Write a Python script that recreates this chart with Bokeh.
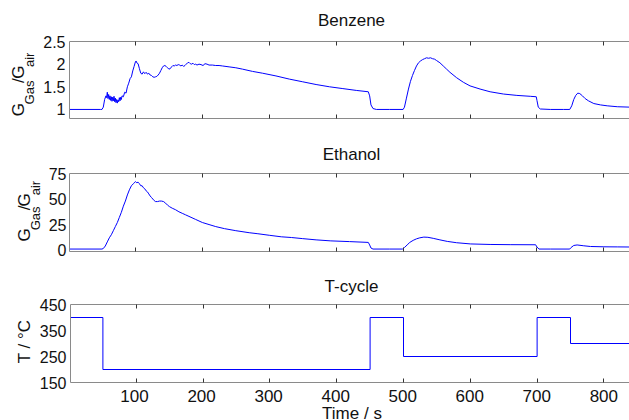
import math
from bokeh.plotting import figure
from bokeh.layouts import column, row
from bokeh.models import Range1d, LinearAxis, FixedTicker, NumeralTickFormatter
from bokeh.core.properties import value
from bokeh.embed import file_html
from bokeh.resources import INLINE

# ---- sensor response, benzene (G_gas / G_air) ----
benzene_t = [1, 48, 50, 52, 54, 56, 57, 58, 59, 60, 61, 62, 63, 64, 65, 66, 67, 68, 69, 70,
             71, 72, 73, 74, 75, 76, 77, 78, 79, 80, 82, 84, 86, 88, 90, 92, 94, 96, 98, 100,
             101, 102, 104, 106, 108, 110, 112, 114, 116, 118, 120, 122, 124, 126, 128, 130,
             132, 134, 136, 138, 140, 142, 144, 146, 148, 150, 152, 154, 156, 158, 160, 162,
             164, 166, 168, 170, 172, 174, 176, 178, 180, 182, 184, 186, 188, 190, 192, 195,
             198, 201, 204, 207, 210, 215, 220, 225, 230, 240, 250, 260, 275, 290, 310, 330,
             350, 370, 390, 410, 430, 448, 450, 452, 455, 460, 480, 500, 502, 505, 508, 511,
             514, 517, 520, 523, 526, 529, 532, 535, 538, 541, 544, 547, 550, 555, 560, 565,
             570, 580, 590, 600, 615, 630, 650, 670, 690, 699, 700, 702, 705, 720, 740, 749,
             752, 755, 758, 761, 764, 768, 772, 777, 785, 795, 805, 820, 840]
benzene_g = [1.00, 1.00, 1.00, 1.05, 1.22, 1.30, 1.26, 1.38, 1.24, 1.33, 1.22, 1.30, 1.20, 1.28,
             1.18, 1.27, 1.19, 1.29, 1.17, 1.25, 1.15, 1.22, 1.14, 1.21, 1.17, 1.26, 1.19, 1.27,
             1.22, 1.30, 1.28, 1.38, 1.36, 1.50, 1.58, 1.68, 1.72, 1.85, 1.95, 2.05, 2.07, 2.03,
             2.01, 1.90, 1.80, 1.78, 1.83, 1.79, 1.82, 1.78, 1.80, 1.76, 1.75, 1.72, 1.71, 1.72,
             1.73, 1.76, 1.80, 1.86, 1.92, 1.96, 1.97, 1.95, 1.92, 1.89, 1.90, 1.94, 1.97, 1.96,
             1.98, 1.97, 1.99, 1.98, 1.96, 1.98, 1.95, 1.97, 2.00, 2.03, 2.04, 2.01, 2.00, 2.02,
             1.99, 2.00, 1.98, 2.00, 1.99, 1.97, 2.01, 2.00, 1.98, 1.98, 1.97, 1.97, 1.96, 1.94,
             1.92, 1.89, 1.84, 1.80, 1.74, 1.67, 1.61, 1.55, 1.50, 1.46, 1.42, 1.39, 1.30, 1.10,
             1.02, 1.00, 1.00, 1.00, 1.05, 1.25, 1.45, 1.62, 1.75, 1.86, 1.96, 2.03, 2.07, 2.10,
             2.12, 2.14, 2.13, 2.14, 2.12, 2.11, 2.08, 2.03, 1.96, 1.89, 1.82, 1.70, 1.60, 1.52,
             1.45, 1.39, 1.34, 1.31, 1.29, 1.28, 1.20, 1.05, 1.01, 1.00, 1.00, 1.00, 1.08, 1.22,
             1.31, 1.36, 1.35, 1.30, 1.24, 1.19, 1.13, 1.10, 1.08, 1.06, 1.05]

# ---- sensor response, ethanol (G_gas / G_air) ----
ethanol_t = [1, 50, 52, 55, 58, 61, 64, 67, 70, 73, 76, 79, 82, 85, 88, 91, 94, 97, 99, 100,
             102, 104, 106, 108, 110, 112, 114, 116, 118, 120, 122, 124, 126, 128, 130, 133,
             136, 139, 142, 145, 148, 151, 155, 160, 165, 170, 175, 180, 190, 200, 210, 220,
             233, 250, 270, 283, 300, 318, 333, 350, 370, 392, 420, 448, 450, 452, 455, 480,
             499, 502, 506, 510, 515, 520, 525, 531, 537, 545, 555, 566, 580, 601, 630, 660,
             698, 700, 703, 720, 749, 751, 755, 760, 770, 780, 800, 820, 840]
ethanol_g = [1.0, 1.0, 1.5, 4.0, 8.0, 12.0, 15.0, 19.0, 23.0, 27.0, 32.0, 37.0, 43.0, 48.0,
             54.0, 59.0, 63.0, 65.0, 66.5, 67.0, 66.0, 66.5, 65.0, 63.0, 63.0, 61.0, 60.0, 58.0,
             57.0, 55.0, 53.0, 51.5, 50.0, 48.5, 47.5, 47.5, 48.0, 48.0, 47.5, 46.0, 44.0, 42.5,
             41.0, 39.5, 37.5, 36.0, 34.5, 33.0, 30.0, 27.0, 25.0, 23.0, 21.0, 19.0, 17.0, 16.0,
             14.5, 13.0, 12.3, 11.2, 10.0, 9.0, 8.3, 7.5, 5.0, 2.0, 1.0, 1.0, 1.0, 2.5, 5.0,
             7.5, 9.5, 11.0, 12.0, 12.7, 12.5, 11.5, 10.0, 8.5, 7.2, 6.0, 5.5, 5.3, 5.2, 3.0,
             1.0, 1.0, 1.0, 2.5, 4.5, 5.0, 4.2, 3.5, 3.2, 3.1, 3.0]

# ---- heater temperature programme (step changes) ----
temp_t = [1, 50, 450, 500, 700, 750, 840]
temp_c = [400, 200, 400, 250, 400, 300, 300]

time_ticks = [100, 200, 300, 400, 500, 600, 700, 800]
time_labels = [str(t) for t in time_ticks]
benzene_ticks = [1, 1.5, 2, 2.5]
ethanol_ticks = [0, 25, 50, 75]
temp_ticks = [150, 250, 350, 450]

FONT = "Liberation Sans"
TEXT = "#111111"
LINE = "#0000ff"
FRAME = "#8a8a8a"
TICK = "#333333"
X0, X1 = 1.5, 838.3
W = 629
FRAME_LEFT = 68

# Arial-compatible advance widths (em fraction) used to chain label pieces
ADV = {"G": 0.778, "a": 0.556, "s": 0.5, "i": 0.222, "r": 0.333, "/": 0.278}
# distance from the alphabetic baseline to the centre of the em box (em fraction)
MID = 0.3465


def text_len(s, px):
    return sum(ADV[c] for c in s) * px


def blank(width, height, top, x_range=None, left=0):
    """Axis-free canvas; y data coordinates are page pixels (y down)."""
    p = figure(width=width, height=height,
               x_range=x_range if x_range is not None else Range1d(left, width),
               y_range=Range1d(top + height, top), x_axis_type=None, y_axis_type=None,
               output_backend="svg", toolbar_location=None, min_border=0,
               min_border_left=left)
    p.outline_line_color = None
    return p


def put(p, text, x, y, size=17, align="left", angle=0.0, dx=0):
    p.text(x=x if isinstance(x, list) else [x], y=y if isinstance(y, list) else [y],
           text=text if isinstance(text, list) else [text],
           text_font=value(FONT), text_font_size=f"{size}px", x_offset=dx,
           text_color=TEXT, text_align=align, text_baseline="middle", angle=angle)


def put_across(p, text, x, base_y, size=17, dx=0):
    # horizontal centred text; base_y is where the letters' baseline should fall
    n = len(text) if isinstance(text, list) else 1
    ys = [base_y - MID * size] * n
    put(p, text, x, ys if n > 1 else ys[0], size=size, align="center", dx=dx)


def put_up(p, text, base_x, y, size=17):
    # upward text; base_x is where the letters' baseline should fall
    put(p, text, base_x - MID * size, y, size=size, angle=math.pi / 2)


def hide_labels(ax):
    ax.major_label_text_font_size = "0px"
    ax.major_label_text_color = None
    ax.major_label_standoff = 0


def panel(width, height, top, bottom, yr, yticks, ystand=4):
    p = figure(width=width, height=height, x_range=Range1d(X0, X1), y_range=Range1d(*yr),
               output_backend="svg", toolbar_location=None,
               min_border_left=width - (W - FRAME_LEFT), min_border_right=0,
               min_border_top=top, min_border_bottom=bottom)
    p.outline_line_color = None
    p.xgrid.visible = False
    p.ygrid.visible = False

    bottom_axis = p.below[0]
    top_axis = LinearAxis()
    p.add_layout(top_axis, "above")
    for ax in (bottom_axis, top_axis):
        ax.ticker = FixedTicker(ticks=time_ticks)
        ax.major_tick_in = 4
        ax.major_tick_out = 0
        ax.minor_tick_line_color = None
        ax.axis_line_color = FRAME
        ax.major_tick_line_color = TICK
        hide_labels(ax)

    ya = p.left[0]
    ya.ticker = FixedTicker(ticks=yticks)
    ya.formatter = NumeralTickFormatter(format="0.[0]")
    ya.major_tick_in = 0
    ya.major_tick_out = 0
    ya.minor_tick_line_color = None
    ya.axis_line_color = FRAME
    ya.major_label_standoff = ystand
    ya.major_label_text_font = FONT
    ya.major_label_text_font_size = "16px"
    ya.major_label_text_color = TEXT
    return p


def ratio_label(p, base_x, start_y, main=17, sub=13, drop=10):
    # G_Gas / G_air written upward, subscripts set below the baseline
    pieces = [("G", main, 0), ("Gas", sub, drop), ("/", main, 0), ("G", main, 0), ("air", sub, drop)]
    y = start_y
    for s, px, d in pieces:
        put_up(p, s, base_x + d, y, size=px)
        y -= text_len(s, px)


# Benzene  (page rows 0-119)
t1 = blank(W, 33, 0, left=FRAME_LEFT)
put_across(t1, "Benzene", 351, 26)
l1 = blank(40, 86, 33)
ratio_label(l1, 23.5, 116.5)
p1 = panel(W - 40, 86, 8, 1, (0.8, 2.5), benzene_ticks)
p1.line(benzene_t, benzene_g, line_color=LINE, line_width=1)

# Ethanol  (page rows 119-258)
t2 = blank(W, 46, 119, left=FRAME_LEFT)
put_across(t2, "Ethanol", 351, 159.5)
l2 = blank(45, 93, 165)
ratio_label(l2, 29.5, 246)
p2 = panel(W - 45, 93, 8, 7, (-1.4, 75), ethanol_ticks, ystand=3)
p2.line(ethanol_t, ethanol_g, line_color=LINE, line_width=1)

# Temperature cycle  (page rows 258-389)
t3 = blank(W, 38, 258, left=FRAME_LEFT)
put_across(t3, "T-cycle", 351, 291.5)
l3 = blank(36, 93, 296)
put_up(l3, "T / °C", 30, 366)
p3 = panel(W - 36, 93, 8, 7, (150, 450), temp_ticks)
p3.step(temp_t, temp_c, mode="after", line_color=LINE, line_width=1)

# shared time scale: tick values and axis title under the last panel (rows 389-420)
t4 = blank(W, 31, 389, x_range=p3.x_range, left=FRAME_LEFT)
put_across(t4, time_labels, time_ticks, 401)
put_across(t4, "Time / s", (X0 + X1) / 2, 418.7, dx=3)

layout = column(t1, row(l1, p1, spacing=0), t2, row(l2, p2, spacing=0),
                t3, row(l3, p3, spacing=0), t4, spacing=0)
open("out.html", "w").write(file_html(layout, INLINE, title="Sensor response"))
